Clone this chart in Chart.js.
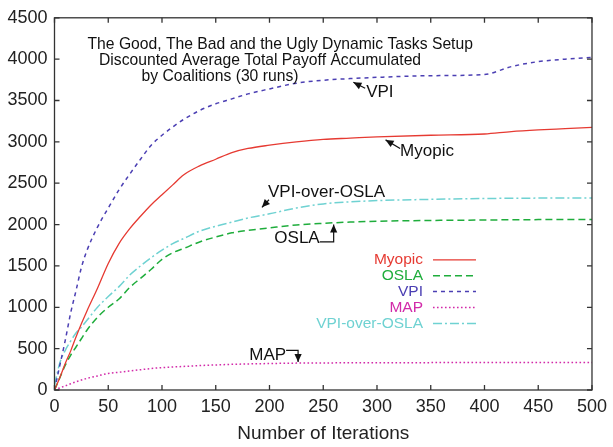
<!DOCTYPE html>
<html>
<head>
<meta charset="utf-8">
<script src="https://cdn.jsdelivr.net/npm/chart.js@4/dist/chart.umd.min.js"></script>
<style>
  html, body { margin: 0; padding: 0; background: #fff; }
  #wrap { width: 613px; height: 447px; }
</style>
</head>
<body>
<div id="wrap"><canvas id="payoffChart" width="613" height="447"></canvas></div>
<script>
const FONT = "'Liberation Sans', Arial, Helvetica, sans-serif";

// iterations sampled for every series
const iterations = [0, 5, 10, 15, 20, 25, 30, 40, 50, 60, 70, 80, 90, 100, 110, 120, 135, 150, 165, 180, 200, 225, 250, 275, 300, 350, 400, 425, 450, 475, 500];

const myopic = [0, 150, 320, 470, 640, 800, 950, 1230, 1530, 1770, 1950, 2100, 2240, 2360, 2480, 2600, 2710, 2790, 2870, 2920, 2960, 3000, 3030, 3045, 3060, 3080, 3095, 3125, 3145, 3160, 3175];
const osla = [0, 150, 300, 420, 520, 620, 720, 880, 1000, 1100, 1240, 1350, 1460, 1580, 1660, 1710, 1790, 1850, 1900, 1930, 1960, 1995, 2015, 2030, 2040, 2050, 2055, 2058, 2060, 2061, 2062];
const vpi = [0, 300, 600, 930, 1200, 1480, 1680, 1970, 2200, 2420, 2610, 2790, 2960, 3080, 3180, 3270, 3380, 3460, 3520, 3580, 3640, 3710, 3745, 3765, 3780, 3800, 3815, 3910, 3970, 4000, 4020];
const map = [0, 25, 50, 75, 100, 120, 140, 170, 200, 215, 230, 245, 260, 270, 278, 285, 295, 303, 310, 315, 320, 325, 327, 329, 330, 331, 332, 332, 333, 333, 333];
const vpiOverOsla = [60, 330, 480, 590, 690, 760, 840, 1000, 1130, 1250, 1390, 1500, 1600, 1690, 1770, 1830, 1920, 1980, 2030, 2080, 2130, 2200, 2250, 2275, 2290, 2305, 2315, 2318, 2320, 2321, 2322];

const seriesNames = ['Myopic', 'OSLA', 'VPI', 'MAP', 'VPI-over-OSLA'];
const seriesValues = [myopic, osla, vpi, map, vpiOverOsla];
const seriesColors = ['#e63a32', '#1fad3c', '#4b3fb3', '#d22aa9', '#6fd2d2'];
const seriesDashes = [[], [7, 4], [4, 4], [1.6, 2.4], [9, 3, 2, 3]];

const xTicks = [0, 50, 100, 150, 200, 250, 300, 350, 400, 450, 500];
const yTicks = [0, 500, 1000, 1500, 2000, 2500, 3000, 3500, 4000, 4500];

// title block lines with their left offsets inside the plot
const titleLines = [
  'The Good, The Bad and the Ugly Dynamic Tasks Setup',
  'Discounted Average Total Payoff Accumulated',
  'by Coalitions (30 runs)'
];
const titleIndents = [33, 44.5, 87];

// curve labels: arrow from tail to head (data coords); elbow labels bend once
const notes = [
  { text: 'VPI', head: [278, 3720], tail: [289, 3648], dx: 1, dy: 9 },
  { text: 'Myopic', head: [308, 3024], tail: [321.5, 2920], dx: 0, dy: 8 },
  { text: 'VPI-over-OSLA', head: [193, 2208], tail: [199.5, 2300], dx: -1, dy: -3 },
  { text: 'OSLA', head: [259.7, 2000], elbow: [259.7, 1792], run: 14, dy: 1 },
  { text: 'MAP', head: [226.6, 340], elbow: [226.6, 480], run: 12, dy: 10 }
];

function arrowHead(ctx, fx, fy, tx, ty) {
  const ang = Math.atan2(ty - fy, tx - fx);
  const len = 8, half = 3.6;
  ctx.beginPath();
  ctx.moveTo(tx, ty);
  ctx.lineTo(tx - len * Math.cos(ang) + half * Math.sin(ang), ty - len * Math.sin(ang) - half * Math.cos(ang));
  ctx.lineTo(tx - len * Math.cos(ang) - half * Math.sin(ang), ty - len * Math.sin(ang) + half * Math.cos(ang));
  ctx.closePath();
  ctx.fill();
}

const decorations = {
  id: 'decorations',
  afterDraw(chart) {
    const { ctx, chartArea: a, scales: { x, y } } = chart;
    ctx.save();

    // frame with inward ticks on all sides
    ctx.strokeStyle = '#333';
    ctx.lineWidth = 1.3;
    ctx.setLineDash([]);
    ctx.strokeRect(a.left, a.top, a.right - a.left, a.bottom - a.top);
    ctx.beginPath();
    xTicks.forEach(v => {
      const px = x.getPixelForValue(v);
      ctx.moveTo(px, a.bottom); ctx.lineTo(px, a.bottom - 5);
      ctx.moveTo(px, a.top); ctx.lineTo(px, a.top + 5);
    });
    yTicks.forEach(v => {
      const py = y.getPixelForValue(v);
      ctx.moveTo(a.left, py); ctx.lineTo(a.left + 5, py);
      ctx.moveTo(a.right, py); ctx.lineTo(a.right - 5, py);
    });
    ctx.stroke();

    // title block
    ctx.fillStyle = '#111';
    ctx.font = '15.7px ' + FONT;
    ctx.textAlign = 'left';
    ctx.textBaseline = 'alphabetic';
    titleLines.forEach((t, i) => ctx.fillText(t, a.left + titleIndents[i], a.top + 31 + i * 16.3));

    // curve labels
    ctx.font = '17px ' + FONT;
    ctx.strokeStyle = '#111';
    ctx.lineWidth = 1.2;
    notes.forEach(n => {
      const hx = x.getPixelForValue(n.head[0]), hy = y.getPixelForValue(n.head[1]);
      if (n.elbow) {
        const ex = x.getPixelForValue(n.elbow[0]), ey = y.getPixelForValue(n.elbow[1]);
        ctx.beginPath();
        ctx.moveTo(ex - n.run, ey); ctx.lineTo(ex, ey); ctx.lineTo(hx, hy);
        ctx.stroke();
        arrowHead(ctx, ex, ey, hx, hy);
        ctx.textAlign = 'right';
        ctx.fillText(n.text, ex - n.run, ey + n.dy);
      } else {
        const tx = x.getPixelForValue(n.tail[0]), ty = y.getPixelForValue(n.tail[1]);
        ctx.beginPath();
        ctx.moveTo(tx, ty); ctx.lineTo(hx, hy);
        ctx.stroke();
        arrowHead(ctx, tx, ty, hx, hy);
        ctx.textAlign = 'left';
        ctx.fillText(n.text, tx + n.dx, ty + n.dy);
      }
    });

    // key, inside the plot
    ctx.font = '15.5px ' + FONT;
    ctx.textAlign = 'right';
    ctx.textBaseline = 'middle';
    const keyRight = a.right - 169, keyTop = a.top + 242;
    chart.data.datasets.forEach((ds, i) => {
      const ky = keyTop + i * 15.9;
      ctx.fillStyle = ds.borderColor;
      ctx.fillText(ds.label, keyRight, ky);
      ctx.strokeStyle = ds.borderColor;
      ctx.lineWidth = ds.borderWidth;
      ctx.setLineDash(ds.borderDash);
      ctx.beginPath();
      ctx.moveTo(keyRight + 10, ky); ctx.lineTo(keyRight + 53, ky);
      ctx.stroke();
    });
    ctx.restore();
  }
};

const chart = new Chart(document.getElementById('payoffChart'), {
  type: 'scatter',
  data: {
    datasets: seriesNames.map((name, i) => ({
      label: name,
      data: iterations.map((it, j) => ({ x: it, y: seriesValues[i][j] })),
      showLine: true,
      borderColor: seriesColors[i],
      borderDash: seriesDashes[i],
      borderWidth: i === 0 ? 1.3 : 1.5,
      pointRadius: 0,
      cubicInterpolationMode: 'monotone',
      fill: false
    }))
  },
  options: {
    responsive: false,
    animation: false,
    devicePixelRatio: 1,
    layout: { padding: { left: 0, right: 18.5, top: 15, bottom: 0 } },
    plugins: { legend: { display: false }, tooltip: { enabled: false } },
    scales: {
      x: {
        type: 'linear', min: 0, max: 500,
        afterBuildTicks: s => { s.ticks = xTicks.map(v => ({ value: v })); },
        afterFit: s => { s.height = 57; },
        ticks: { font: { family: FONT, size: 18 }, color: '#222', padding: 6, maxRotation: 0,
                 callback: v => String(v) },
        grid: { display: true, drawOnChartArea: false, drawTicks: false },
        border: { display: false },
        title: { display: true, text: 'Number of Iterations', color: '#222',
                 font: { family: FONT, size: 19, lineHeight: 1.2 }, padding: { top: 0, bottom: 2 } }
      },
      y: {
        type: 'linear', min: 0, max: 4500,
        afterBuildTicks: s => { s.ticks = yTicks.map(v => ({ value: v })); },
        afterFit: s => { s.width = 54.5; },
        ticks: { font: { family: FONT, size: 18 }, color: '#222', padding: 7,
                 callback: v => String(v) },
        grid: { display: true, drawOnChartArea: false, drawTicks: false },
        border: { display: false }
      }
    }
  },
  plugins: [decorations]
});
</script>
</body>
</html>
